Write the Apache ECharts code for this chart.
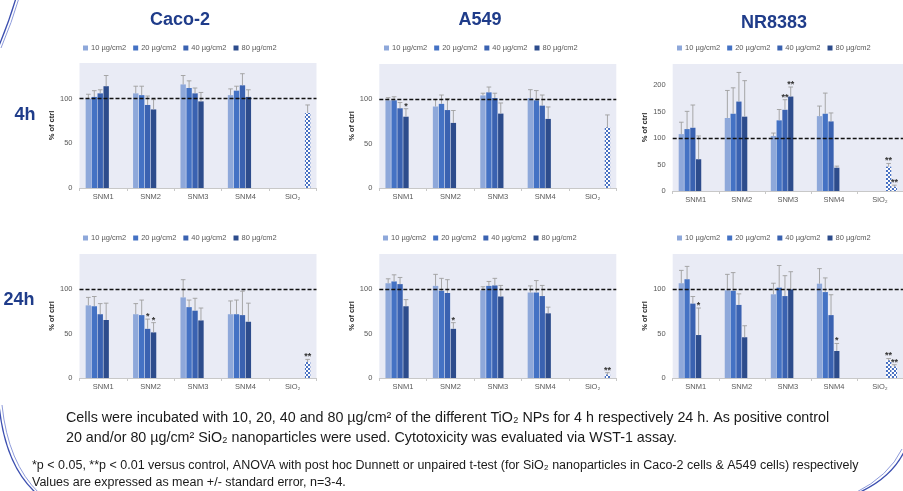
<!DOCTYPE html>
<html>
<head>
<meta charset="utf-8">
<script src="https://cdn.jsdelivr.net/npm/echarts@6/dist/echarts.min.js"></script>
<style>
html, body { margin: 0; padding: 0; background: #fff; }
#chart { width: 903px; height: 491px; }
</style>
</head>
<body>
<div id="chart"></div>
<script>
// categories / legend
const categories = ['SNM1', 'SNM2', 'SNM3', 'SNM4', 'SiO₂'];
const concentrations = ['10 µg/cm2', '20 µg/cm2', '40 µg/cm2', '80 µg/cm2'];
const sio2Names = ['SiO₂ 20 µg/cm2', 'SiO₂ 80 µg/cm2'];
const cellLines = ['Caco-2', 'A549', 'NR8383'];
const timePoints = ['4h', '24h'];
const yTicks = [0, 50, 100, 150, 200];

// % of ctrl, rows = 10/20/40/80 µg/cm2, columns = SNM1..SNM4
// errors = standard error (upper whisker only)
const caco4Mean = [[100, 106, 116, 104], [102, 104, 112, 109], [106, 93, 106, 115], [114, 88, 97, 102]];
const caco4Err = [[5, 8, 10, 7], [7, 10, 8, 5], [4, 10, 6, 13], [12, 11, 10, 8]];
const caco4Sio2 = [null, 84];
const caco4Sio2Err = [null, 9];
const caco4Stars = [];

const a5494Mean = [[99, 92, 104.5, 101.5], [99, 95, 108, 99], [90, 88, 101.5, 93], [80.5, 73.5, 84, 78]];
const a5494Err = [[3, 8, 2.5, 9.5], [4, 10, 6, 11], [6.5, 13, 5.5, 12], [9, 14, 12, 13.5]];
const a5494Sio2 = [null, 68.5];
const a5494Sio2Err = [null, 14];
const a5494Stars = [[3, 0, '*']];

const nr4Mean = [[107.5, 138, 104, 141.5], [117, 146, 133.5, 146], [119.5, 169, 153.5, 131.5], [60, 140.5, 178.5, 44]];
const nr4Err = [[22.5, 52, 5.5, 19], [33.5, 49, 20.5, 39], [43, 55, 19, 16], [44, 68, 18, 3]];
const nr4Sio2 = [46, 8];
const nr4Sio2Err = [6, 3];
const nr4Stars = [[2, 2, '**'], [3, 2, '**'], [4, 4, '**'], [5, 4, '**']];

const caco24Mean = [[82, 72, 91, 72], [81, 71, 80, 72], [72, 55.5, 76, 71], [65.5, 51.5, 65, 63.5]];
const caco24Err = [[9, 12, 20, 15], [11, 17, 8, 16], [12, 11, 14, 27], [19, 11, 14, 21]];
const caco24Sio2 = [null, 18];
const caco24Sio2Err = [null, 3];
const caco24Stars = [[2, 1, '*'], [3, 1, '*'], [5, 4, '**']];

const a54924Mean = [[107, 104, 99, 96.5], [109, 98.5, 104, 96.5], [106, 96, 104.5, 92.5], [81, 55.5, 92, 73]];
const a54924Err = [[5, 13, 4, 7.5], [7.5, 14, 5, 13.5], [7.5, 15, 8, 12], [7.5, 7, 12.5, 7]];
const a54924Sio2 = [null, 4];
const a54924Sio2Err = [null, 2];
const a54924Stars = [[3, 1, '*'], [5, 4, '**']];

const nr24Mean = [[107, 99, 94.5, 106.5], [111.5, 98.5, 102, 97], [84, 82.5, 92.5, 71], [48.5, 46, 100, 30.5]];
const nr24Err = [[14.5, 18, 12.5, 17], [14.5, 20.5, 25, 16], [8, 12.5, 23, 23], [30.5, 13, 20, 8.5]];
const nr24Sio2 = [20, 13];
const nr24Sio2Err = [2, 2];
const nr24Stars = [[3, 0, '*'], [3, 3, '*'], [4, 4, '**'], [5, 4, '**']];

const panels = [
  { mean: caco4Mean, err: caco4Err, sio2: caco4Sio2, sio2Err: caco4Sio2Err, stars: caco4Stars, yMax: 140 },
  { mean: a5494Mean, err: a5494Err, sio2: a5494Sio2, sio2Err: a5494Sio2Err, stars: a5494Stars, yMax: 140 },
  { mean: nr4Mean, err: nr4Err, sio2: nr4Sio2, sio2Err: nr4Sio2Err, stars: nr4Stars, yMax: 240 },
  { mean: caco24Mean, err: caco24Err, sio2: caco24Sio2, sio2Err: caco24Sio2Err, stars: caco24Stars, yMax: 140 },
  { mean: a54924Mean, err: a54924Err, sio2: a54924Sio2, sio2Err: a54924Sio2Err, stars: a54924Stars, yMax: 140 },
  { mean: nr24Mean, err: nr24Err, sio2: nr24Sio2, sio2Err: nr24Sio2Err, stars: nr24Stars, yMax: 140 }
];

// layout
const FONT = '"Liberation Sans", Arial, sans-serif';
const gridLeft = [79.5, 379.3, 672.7];
const gridTop = [[63, 64, 64], [254, 254, 254]];
const gridHeight = [[125, 124, 127], [124, 124, 124]];
const legendLeft = [[83, 384, 677], [83, 383, 677]];
const legendTop = [44, 234];
const barColors = ['#8EA8DA', '#4472C4', '#3A62B1', '#2D4C8C'];
const CAT_GAP = 0.26;
const BAR_GAP = 0.1;

// checkered fill for the SiO2 bars
const checker = document.createElement('canvas');
checker.width = 4;
checker.height = 4;
const cctx = checker.getContext('2d');
cctx.fillStyle = '#ffffff';
cctx.fillRect(0, 0, 4, 4);
cctx.fillStyle = '#4A72C2';
cctx.fillRect(0, 0, 2, 2);
cctx.fillRect(2, 2, 2, 2);

const grids = [], xAxes = [], yAxes = [], series = [], legends = [];

panels.forEach(function (p, g) {
  const row = Math.floor(g / 3), col = g % 3;
  grids.push({
    left: gridLeft[col], top: gridTop[row][col], width: 237, height: gridHeight[row][col],
    show: true, backgroundColor: '#E9EBF5', borderWidth: 0
  });
  xAxes.push({
    type: 'category', gridIndex: g, data: categories,
    axisLine: { lineStyle: { color: '#C8C8C8' } },
    axisTick: { show: true, length: 3, lineStyle: { color: '#C8C8C8' } },
    axisLabel: { fontSize: 7.5, color: '#595959', margin: 5, fontFamily: FONT }
  });
  yAxes.push({
    type: 'value', gridIndex: g, min: 0, max: p.yMax, interval: 50,
    axisLine: { show: false }, axisTick: { show: false }, splitLine: { show: false },
    axisLabel: {
      fontSize: 7.5, color: '#595959', margin: 7, fontFamily: FONT, showMaxLabel: false,
      formatter: function (v) { return yTicks.indexOf(v) >= 0 ? String(v) : ''; }
    },
    name: '% of ctrl', nameLocation: 'middle', nameGap: 22, nameRotate: 90,
    nameTextStyle: { fontSize: 7.5, fontWeight: 'bold', color: '#262626', fontFamily: FONT }
  });
  legends.push({
    data: concentrations, left: legendLeft[row][col], top: legendTop[row], padding: 0,
    icon: 'rect', itemWidth: 5, itemHeight: 5, itemGap: 7,
    textStyle: { fontSize: 7.5, color: '#595959', fontFamily: FONT, padding: [0, 0, 0, -2] }
  });

  p.mean.forEach(function (vals, i) {
    series.push({
      type: 'bar', name: concentrations[i], xAxisIndex: g, yAxisIndex: g,
      data: vals.concat([null]),
      barGap: '10%', barCategoryGap: '26%',
      itemStyle: { color: barColors[i] }
    });
  });
  p.sio2.forEach(function (v, j) {
    const s = {
      type: 'bar', name: sio2Names[j], xAxisIndex: g, yAxisIndex: g,
      data: [null, null, null, null, v],
      barGap: '10%', barCategoryGap: '26%',
      itemStyle: { color: { image: checker, repeat: 'repeat' } }
    };
    if (j === 1) {
      s.z = 3;
      s.markLine = {
        silent: true, symbol: 'none', label: { show: false },
        lineStyle: { color: '#111', type: [4, 2], width: 1.3 },
        data: [{ yAxis: 100 }]
      };
    }
    series.push(s);
  });

  // error bars + significance stars
  const items = [];
  p.mean.forEach(function (vals, i) {
    vals.forEach(function (m, c) { items.push([c, m, p.err[i][c], i]); });
  });
  p.sio2.forEach(function (v, j) {
    if (v !== null) items.push([4, v, p.sio2Err[j], 4 + j]);
  });
  const starText = items.map(function (it) {
    const s = p.stars.find(function (st) { return st[0] === it[3] && st[1] === it[0]; });
    return s ? s[2] : '';
  });
  series.push({
    type: 'custom', xAxisIndex: g, yAxisIndex: g, z: 4, data: items,
    renderItem: function (params, api) {
      const cat = api.value(0), m = api.value(1), e = api.value(2), slot = api.value(3);
      const band = api.size([1, 0])[0];
      const usable = band * (1 - CAT_GAP);
      const w = usable / (6 + 5 * BAR_GAP);
      const cx = api.coord([cat, 0])[0];
      const x = cx - usable / 2 + slot * w * (1 + BAR_GAP) + w / 2;
      const yTop = api.coord([cat, m + e])[1];
      const yM = api.coord([cat, m])[1];
      const st = { stroke: '#9E9E9E', lineWidth: 0.9 };
      const children = [
        { type: 'line', shape: { x1: x, y1: yM, x2: x, y2: yTop }, style: st },
        { type: 'line', shape: { x1: x - 2.3, y1: yTop, x2: x + 2.3, y2: yTop }, style: st }
      ];
      const t = starText[params.dataIndex];
      if (t) {
        children.push({
          type: 'text', x: x, y: yTop + 2,
          style: { text: t, fill: '#333', font: 'bold 9px ' + FONT, align: 'center', verticalAlign: 'bottom', textAlign: 'center', textVerticalAlign: 'bottom' }
        });
      }
      return { type: 'group', children: children };
    }
  });
});

function label(text, x, y, font, fill, align) {
  return {
    type: 'text', x: x, y: y, silent: true,
    style: { text: text, font: font, fill: fill, align: align || 'center', verticalAlign: 'middle', textAlign: align || 'center', textVerticalAlign: 'middle' }
  };
}
const titleFont = 'bold 18px ' + FONT;
const titleColor = '#1F3C8A';
const curve = function (shape, color, width) {
  return { type: 'bezierCurve', silent: true, shape: shape, style: { stroke: color, lineWidth: width, fill: null } };
};

const graphics = [
  label(cellLines[0], 180, 20, titleFont, titleColor),
  label(cellLines[1], 480, 20, titleFont, titleColor),
  label(cellLines[2], 774, 23, titleFont, titleColor),
  label(timePoints[0], 25, 115, titleFont, titleColor),
  label(timePoints[1], 19, 300, titleFont, titleColor),
  label('Cells were incubated with 10, 20, 40 and 80 µg/cm² of the different TiO₂ NPs for 4 h respectively 24 h. As positive control', 66, 418, '14.3px ' + FONT, '#1a1a1a', 'left'),
  label('20 and/or 80 µg/cm² SiO₂ nanoparticles were used. Cytotoxicity was evaluated via WST-1 assay.', 66, 438, '14.3px ' + FONT, '#1a1a1a', 'left'),
  label('*p < 0.05, **p < 0.01 versus control, ANOVA with post hoc Dunnett or unpaired t-test (for SiO₂ nanoparticles in Caco-2 cells & A549 cells) respectively', 32, 466, '12.5px ' + FONT, '#1a1a1a', 'left'),
  label('Values are expressed as mean +/- standard error, n=3-4.', 32, 483, '12.5px ' + FONT, '#1a1a1a', 'left'),
  curve({ x1: 16, y1: -2, cpx1: 9, cpy1: 22, x2: -2, y2: 48 }, '#3C4FB0', 1.3),
  curve({ x1: 19, y1: -2, cpx1: 12, cpy1: 22, x2: 1, y2: 48 }, '#8E9BDB', 1),
  curve({ x1: -1, y1: 405, cpx1: 5, cpy1: 465, x2: 36, y2: 493 }, '#3C4FB0', 1.3),
  curve({ x1: 2, y1: 405, cpx1: 8, cpy1: 463, x2: 39, y2: 493 }, '#8E9BDB', 1),
  curve({ x1: 905, y1: 450, cpx1: 892, cpy1: 478, x2: 858, y2: 493 }, '#3C4FB0', 1.3),
  curve({ x1: 902, y1: 449, cpx1: 889, cpy1: 476, x2: 855, y2: 493 }, '#8E9BDB', 1)
];

const chart = echarts.init(document.getElementById('chart'));
chart.setOption({
  animation: false,
  backgroundColor: '#ffffff',
  textStyle: { fontFamily: FONT },
  grid: grids,
  xAxis: xAxes,
  yAxis: yAxes,
  legend: legends,
  series: series,
  graphic: graphics
});
</script>
</body>
</html>
